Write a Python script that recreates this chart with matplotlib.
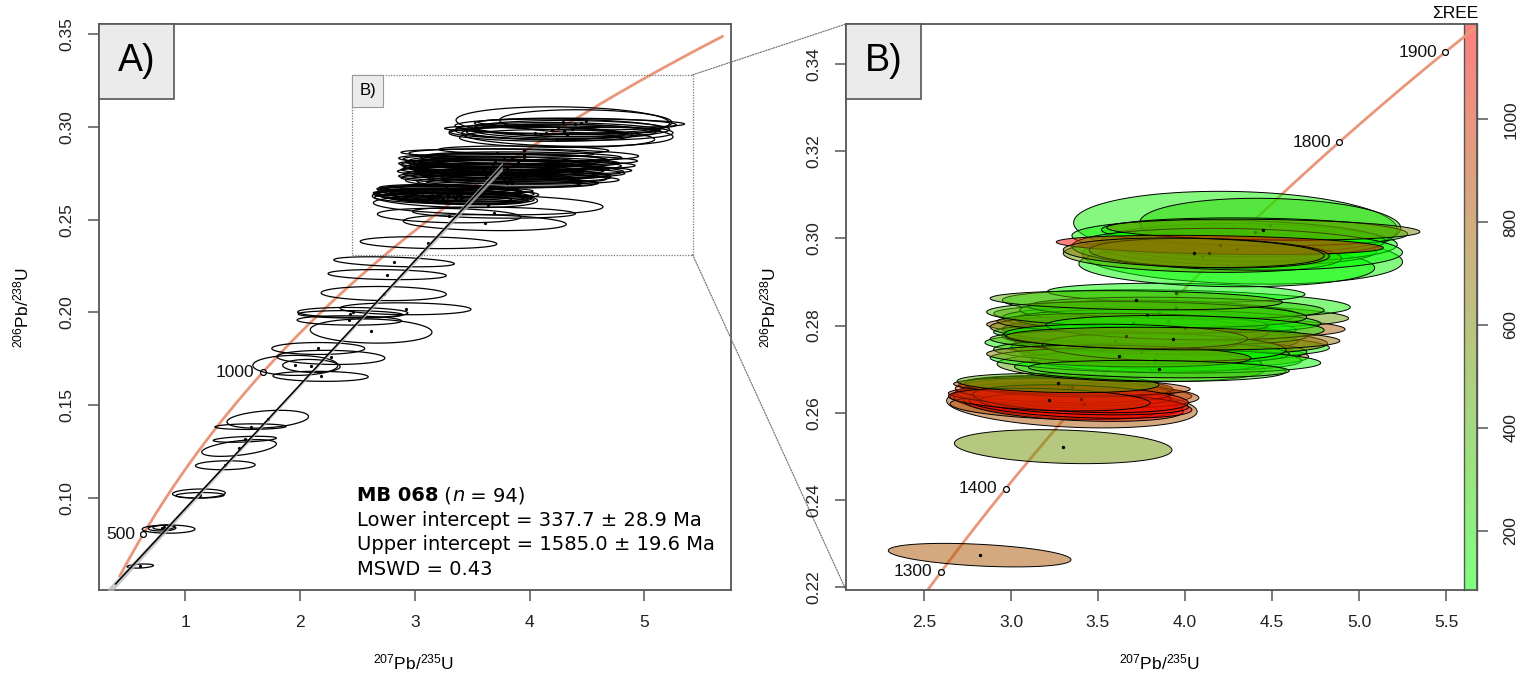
import numpy as np
import matplotlib
matplotlib.use("Agg")
import matplotlib.pyplot as plt
from matplotlib.patches import Polygon, Rectangle, ConnectionPatch
from matplotlib.transforms import ScaledTranslation

plt.rcParams["font.family"] = ["Liberation Sans", "DejaVu Sans"]
plt.rcParams["mathtext.fontset"] = "custom"
plt.rcParams["mathtext.rm"] = "Liberation Sans"
plt.rcParams["mathtext.it"] = "Liberation Sans:italic"
plt.rcParams["mathtext.bf"] = "Liberation Sans:bold"

nan = np.nan

# ---------------------------------------------------------------------------
# Zircon U-Pb analyses of sample MB 068
# centre 207Pb/235U, half-width in x, centre 206Pb/238U, half-height in y,
# error correlation, sum of REE (ppm, nan where not analysed)
# ---------------------------------------------------------------------------
pb207_u235 = [
    0.610, 0.856, 0.815, 0.800, 1.120, 1.130, 1.350, 1.470, 1.520, 1.570,
    1.720, 1.960, 2.100, 2.180, 2.160, 2.270, 2.460, 2.430, 2.620, 2.920,
    2.440, 2.730, 2.760, 3.120, 3.610, 3.690, 3.640,
    2.820, 3.300,
    3.350, 3.300, 3.330, 3.250, 3.360, 3.380, 3.400, 3.320, 3.380, 3.280,
    3.300, 3.420, 3.330, 3.350, 3.400, 3.220, 3.270,
    3.690, 3.800, 3.880, 3.840, 3.890, 3.920, 3.950, 3.950, 3.800, 3.750,
    3.850, 3.700, 3.850, 3.950, 3.720, 3.780, 3.860, 3.920,
    3.750, 3.800, 3.680, 3.900, 3.600, 3.830, 3.950, 3.700, 3.880, 3.780,
    3.620, 4.000, 3.720, 3.850, 3.660, 3.930,
    4.290, 4.330, 4.240, 4.300, 4.370, 4.490, 4.250, 4.100, 4.400, 4.300,
    4.450, 4.200, 4.140, 4.050,
]
err_207 = [
    0.115, 0.230, 0.095, 0.120, 0.230, 0.210, 0.260, 0.325, 0.275, 0.310,
    0.355, 0.370, 0.250, 0.415, 0.405, 0.470, 0.480, 0.455, 0.530, 0.570,
    0.455, 0.545, 0.515, 0.595, 0.710, 0.710, 1.000,
    0.525, 0.625,
    0.720, 0.650, 0.660, 0.600, 0.630, 0.660, 0.640, 0.620, 0.700, 0.640,
    0.620, 0.600, 0.600, 0.680, 0.620, 0.580, 0.580,
    0.770, 0.780, 0.830, 0.990, 1.030, 1.020, 1.000, 0.740, 0.850, 0.800,
    0.850, 0.750, 0.800, 0.720, 0.700, 0.660, 0.780, 0.900,
    0.850, 0.900, 0.800, 0.880, 0.720, 0.950, 0.850, 0.780, 0.700, 0.920,
    0.760, 0.800, 0.840, 0.750, 0.700, 0.960,
    0.930, 0.920, 0.850, 0.800, 0.850, 0.750, 0.900, 0.800, 0.880, 0.950,
    0.900, 0.940, 0.690, 0.750,
]
pb206_u238 = [
    0.0634, 0.0833, 0.0843, 0.0838, 0.1025, 0.1015, 0.1177, 0.1270, 0.1317, 0.1385,
    0.1425, 0.1715, 0.1712, 0.1656, 0.1806, 0.1758, 0.2000, 0.1957, 0.1900, 0.2020,
    0.1990, 0.2102, 0.2204, 0.2376, 0.2484, 0.2538, 0.2580,
    0.2273, 0.2522,
    0.2615, 0.2628, 0.2625, 0.2612, 0.2615, 0.2645, 0.2617, 0.2655, 0.2640, 0.2638,
    0.2650, 0.2620, 0.2660, 0.2660, 0.2632, 0.2630, 0.2668,
    0.2705, 0.2700, 0.2735, 0.2755, 0.2797, 0.2822, 0.2850, 0.2875, 0.2770, 0.2785,
    0.2745, 0.2812, 0.2830, 0.2725, 0.2760, 0.2718, 0.2795, 0.2765,
    0.2740, 0.2780, 0.2790, 0.2810, 0.2765, 0.2720, 0.2840, 0.2805, 0.2750, 0.2825,
    0.2730, 0.2795, 0.2858, 0.2700, 0.2775, 0.2770,
    0.3028, 0.2955, 0.2937, 0.2976, 0.2990, 0.3030, 0.3000, 0.2960, 0.3015, 0.2975,
    0.3020, 0.2985, 0.2966, 0.2967,
]
err_206 = [
    0.0011, 0.0022, 0.0012, 0.0015, 0.0024, 0.0015, 0.0024, 0.0045, 0.0016, 0.0015,
    0.0048, 0.0054, 0.0035, 0.0027, 0.0032, 0.0038, 0.0027, 0.0025, 0.0065, 0.0032,
    0.0020, 0.0038, 0.0027, 0.0032, 0.0043, 0.0030, 0.0054,
    0.0027, 0.0039,
    0.0050, 0.0032, 0.0040, 0.0028, 0.0035, 0.0025, 0.0030, 0.0030, 0.0030, 0.0022,
    0.0028, 0.0025, 0.0024, 0.0020, 0.0032, 0.0026, 0.0022,
    0.0034, 0.0028, 0.0032, 0.0030, 0.0028, 0.0028, 0.0032, 0.0022, 0.0030, 0.0032,
    0.0028, 0.0030, 0.0028, 0.0028, 0.0025, 0.0025, 0.0025, 0.0032,
    0.0028, 0.0025, 0.0032, 0.0027, 0.0023, 0.0029, 0.0025, 0.0023, 0.0032, 0.0030,
    0.0025, 0.0028, 0.0022, 0.0020, 0.0028, 0.0026,
    0.0080, 0.0060, 0.0048, 0.0038, 0.0044, 0.0062, 0.0042, 0.0038, 0.0032, 0.0048,
    0.0024, 0.0022, 0.0034, 0.0034,
]
err_corr = [
    0.30, 0.00, 0.20, 0.10, 0.10, 0.10, 0.10, 0.50, 0.40, 0.10,
    0.30, 0.00, -0.10, -0.10, 0.00, -0.10, -0.10, -0.10, -0.10, -0.10,
    -0.10, -0.10, -0.20, -0.20, -0.20, -0.20, -0.20,
    -0.39, -0.20,
    -0.25, -0.30, -0.30, -0.30, -0.35, -0.30, -0.35, -0.30, -0.20, -0.30,
    -0.20, -0.30, -0.25, -0.30, -0.30, -0.30, -0.20,
    -0.20, -0.20, -0.20, -0.20, -0.20, -0.20, -0.25, -0.15, -0.20, -0.20,
    -0.20, -0.20, -0.20, -0.20, -0.20, -0.20, -0.20, -0.20,
    -0.20, -0.20, -0.20, -0.20, -0.20, -0.20, -0.20, -0.20, -0.20, -0.20,
    -0.20, -0.20, -0.20, -0.20, -0.20, -0.20,
    -0.10, -0.15, -0.10, -0.15, -0.10, -0.10, -0.15, -0.15, -0.15, -0.15,
    -0.20, -0.30, -0.20, -0.20,
]
sum_ree = [
    nan, nan, nan, nan, nan, nan, nan, nan, nan, nan,
    nan, nan, nan, nan, nan, nan, nan, nan, nan, nan,
    nan, nan, nan, nan, nan, nan, nan,
    820, 560,
    820, 1100, 1050, 880, 1150, 940, 1185, 820, 870, 1120,
    980, 1060, 700, 900, 1100, 1000, 430,
    470, 200, 760, 150, 800, 500, 150, 100, 120, 300,
    100, 200, 120, 250, 560, 90, 85, 700,
    350, 95, 560, 130, 420, 100, 300, 650, 90, 380,
    650, 150, 450, 300, 110, 700,
    150, 120, 100, 200, 90, 250, 130, 500, 180, 95,
    620, 1150, 600, 650,
]

# Discordia fit results
sample_name = "MB 068"
lower_age, lower_err = 337.7, 28.9
upper_age, upper_err = 1585.0, 19.6
mswd = 0.43

# Concordia age ticks (Ma)
ticks_A = [500, 1000, 1500]
ticks_B = [1300, 1400, 1500, 1600, 1700, 1800, 1900]
concordia_range = (360.0, 1930.0)

# Decay constants (1/Myr)
L238 = 1.55125e-4
L235 = 9.8485e-4


def concordia(t):
    t = np.asarray(t, dtype=float)
    return np.exp(L235 * t) - 1.0, np.exp(L238 * t) - 1.0


def ellipse_xy(cx, cy, a, b, r, n=120):
    th = np.linspace(0, 2 * np.pi, n)
    x = cx + a * np.cos(th)
    y = cy + b * (r * np.cos(th) + np.sqrt(1 - r * r) * np.sin(th))
    return np.column_stack([x, y])


x = np.array(pb207_u235)
y = np.array(pb206_u238)
ex = np.array(err_207)
ey = np.array(err_206)
rr = np.array(err_corr)
ree = np.array(sum_ree, dtype=float)
has_ree = np.isfinite(ree)
vmin, vmax = np.nanmin(ree), np.nanmax(ree)


def ree_colour(v, alpha=0.5):
    f = (v - vmin) / (vmax - vmin)
    return (f, 1 - f, 0.0, alpha)


W, H = 1530, 680
fig = plt.figure(figsize=(W / 100, H / 100), dpi=100)
fig.patch.set_facecolor("white")


def frame(l, t, r, b):
    return [l / W, 1 - b / H, (r - l) / W, (b - t) / H]


axA = fig.add_axes(frame(99, 24, 731, 590))
cax = fig.add_axes(frame(1464, 24, 1477, 590))
axB = fig.add_axes(frame(846, 24, 1477, 590))
cax.set_zorder(1)
axB.set_zorder(2)
axB.patch.set_alpha(0)

SPINE = "#555555"
CONC = "#E9967A"


def style_axes(ax, xt, yt, xfmt, yfmt):
    ax.set_xticks(xt)
    ax.set_xticklabels([xfmt % v for v in xt])
    ax.set_yticks(yt)
    ax.set_yticklabels([yfmt % v for v in yt], rotation=90, va="center")
    ax.tick_params(axis="both", direction="out", length=8, width=1.1,
                   color=SPINE, labelsize=12.5, labelcolor="#222222")
    ax.tick_params(axis="x", pad=10)
    ax.tick_params(axis="y", pad=10)
    for s in ax.spines.values():
        s.set_color(SPINE)
        s.set_linewidth(1.3)


def draw_concordia(ax, tick_ages, label_size=12.5):
    tt = np.linspace(*concordia_range, 500)
    cx, cy = concordia(tt)
    ax.plot(cx, cy, color=CONC, lw=2.0, zorder=1, solid_capstyle="butt")
    mx, my = concordia(tick_ages)
    ax.plot(mx, my, "o", ms=4.2, mfc="white", mec="black", mew=0.9, zorder=1.5)
    for a, px, py in zip(tick_ages, mx, my):
        ax.annotate(str(a), (px, py), xytext=(-6, 0), textcoords="offset points",
                    ha="right", va="center", fontsize=label_size, color="#111111",
                    zorder=1.4, annotation_clip=True)


# ----------------------------- panel A -----------------------------------
axA.set_xlim(0.25, 5.755)
axA.set_ylim(0.0505, 0.3554)
draw_concordia(axA, ticks_A)

for i in range(len(x)):
    axA.add_patch(Polygon(ellipse_xy(x[i], y[i], ex[i], ey[i], rr[i]), closed=True,
                          fill=False, edgecolor="black", lw=0.9, zorder=3))
axA.plot(x, y, "o", ms=1.3, color="black", zorder=3.5)

# discordia line with its uncertainty envelope
xl, yl = concordia(lower_age)
xu, yu = concordia(upper_age)
xg = np.linspace(xl - 0.07, xu, 300)
th = np.linspace(0, 2 * np.pi, 120)
rho_env = 0.6
lines = []
for t in th:
    t1 = lower_age + lower_err * np.cos(t)
    t2 = upper_age + upper_err * (rho_env * np.cos(t) + np.sqrt(1 - rho_env ** 2) * np.sin(t))
    a1, b1 = concordia(t1)
    a2, b2 = concordia(t2)
    lines.append(b1 + (b2 - b1) / (a2 - a1) * (xg - a1))
lines = np.array(lines)
axA.fill_between(xg, lines.min(axis=0), lines.max(axis=0), color="#b8b8b8",
                 alpha=0.75, lw=0, zorder=4)
axA.plot([xl, xu], [yl, yu], color="black", lw=1.1, zorder=5)

style_axes(axA, [1, 2, 3, 4, 5], [0.10, 0.15, 0.20, 0.25, 0.30, 0.35], "%d", "%.2f")

# inset outline for panel B
ix0, ix1, iy0, iy1 = 2.456, 5.420, 0.2312, 0.328
axA.add_patch(Rectangle((ix0, iy0), ix1 - ix0, iy1 - iy0, fill=False,
                        edgecolor="#777777", lw=0.9, ls=(0, (1, 1.2)), zorder=6))
tr = fig.dpi_scale_trans + ScaledTranslation(ix0, iy1, axA.transData)
axA.add_patch(Rectangle((0, -0.32), 0.31, 0.32, transform=tr, facecolor="#EBEBEB",
                        edgecolor="#999999", lw=0.8, zorder=7))
axA.text(0.155, -0.16, "B)", transform=tr, ha="center", va="center",
         fontsize=12, zorder=8)

# results
tf = "DejaVu Sans"
fs = 14.0
t1 = axA.text(0.408, 0.1572, sample_name, transform=axA.transAxes, family=tf,
              fontsize=fs, fontweight="bold", va="baseline", zorder=9)
t2 = axA.annotate(" (", xy=(1, 0), xycoords=t1, va="bottom", ha="left",
                  family=tf, fontsize=fs, zorder=9)
t3 = axA.annotate("n", xy=(1, 0), xycoords=t2, va="bottom", ha="left",
                  family=tf, fontsize=fs, style="italic", zorder=9)
axA.annotate(" = %d)" % len(x), xy=(1, 0), xycoords=t3, va="bottom", ha="left",
             family=tf, fontsize=fs, zorder=9)
for k, s in enumerate([
        "Lower intercept = %.1f \u00b1 %.1f Ma" % (lower_age, lower_err),
        "Upper intercept = %.1f \u00b1 %.1f Ma" % (upper_age, upper_err),
        "MSWD = %.2f" % mswd]):
    axA.text(0.408, 0.1131 - k * 0.0433, s, transform=axA.transAxes, family=tf,
             fontsize=fs, va="baseline", zorder=9)

# ----------------------------- panel B -----------------------------------
axB.set_xlim(2.052, 5.678)
axB.set_ylim(0.2193, 0.3492)
draw_concordia(axB, ticks_B)

idx = np.where(has_ree)[0]
for j, i in enumerate(idx):
    z = 3 + 0.01 * j
    axB.add_patch(Polygon(ellipse_xy(x[i], y[i], ex[i], ey[i], rr[i]), closed=True,
                          facecolor=ree_colour(ree[i]), edgecolor="black", lw=0.7,
                          zorder=z))
    axB.plot(x[i], y[i], "o", ms=1.4, color="black", zorder=z + 0.005)

style_axes(axB, [2.5, 3.0, 3.5, 4.0, 4.5, 5.0, 5.5],
           [0.22, 0.24, 0.26, 0.28, 0.30, 0.32, 0.34], "%.1f", "%.2f")

# colour scale
grad = np.linspace(vmin, vmax, 256)
rgba = np.array([ree_colour(v) for v in grad])
rgb = rgba[:, :3] * rgba[:, 3:4] + (1 - rgba[:, 3:4])
cax.imshow(rgb[:, None, :], aspect="auto", origin="lower",
           extent=[0, 1, vmin, vmax], interpolation="bilinear")
cax.set_xlim(0, 1)
cax.set_ylim(vmin, vmax)
cax.set_xticks([])
cax.yaxis.tick_right()
cb_ticks = [200, 400, 600, 800, 1000]
cax.set_yticks(cb_ticks)
cax.set_yticklabels([str(v) for v in cb_ticks], rotation=90, va="center")
cax.tick_params(axis="y", direction="out", length=8, width=1.1, color=SPINE,
                labelsize=12.5, labelcolor="#222222", pad=11)
for side, s in cax.spines.items():
    s.set_color(SPINE)
    s.set_linewidth(1.0)
    if side in ("top", "bottom"):
        s.set_visible(False)
fig.text(1478 / W, 1 - 14 / H, "\u03a3REE", ha="right", va="center", fontsize=12.5)

# panel tags
for ax, tag in [(axA, "A)"), (axB, "B)")]:
    trt = fig.dpi_scale_trans + ScaledTranslation(0, 1, ax.transAxes)
    ax.add_patch(Rectangle((0, -0.75), 0.75, 0.75, transform=trt, facecolor="#EBEBEB",
                           edgecolor=SPINE, lw=1.2, zorder=20, clip_on=False))
    ax.text(0.375, -0.37, tag, transform=trt, ha="center", va="center",
            fontsize=27, zorder=21)

# axis titles
lab_y = r"$^{206}$Pb/$^{238}$U"
lab_x = r"$^{207}$Pb/$^{235}$U"
fig.text(21 / W, 1 - 307 / H, lab_y, rotation=90, ha="center", va="center", fontsize=12.5)
fig.text(414 / W, 1 - 662 / H, lab_x, ha="center", va="center", fontsize=12.5)
fig.text(768 / W, 1 - 307 / H, lab_y, rotation=90, ha="center", va="center", fontsize=12.5)
fig.text(1160 / W, 1 - 662 / H, lab_x, ha="center", va="center", fontsize=12.5)

# zoom connectors
for (xa, ya), (xb, yb) in [((ix1, iy1), (0, 1)), ((ix1, iy0), (0, 0))]:
    con = ConnectionPatch(xyA=(xa, ya), coordsA="data", axesA=axA,
                          xyB=(xb, yb), coordsB="axes fraction", axesB=axB,
                          color="#777777", lw=0.9, ls=(0, (1, 1.2)))
    fig.add_artist(con)

fig.savefig("out.png", dpi=100, facecolor="white")
